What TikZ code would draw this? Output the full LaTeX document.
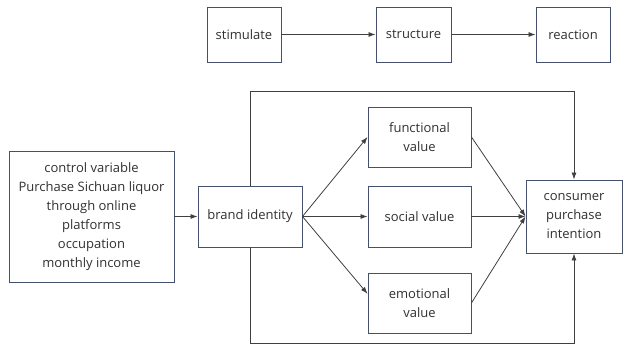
\documentclass[tikz,border=0pt]{standalone}
\usepackage{fontspec}
\setmainfont{Open Sans}
\usetikzlibrary{arrows.meta}
\definecolor{boxline}{HTML}{44506E}
\definecolor{arrline}{HTML}{404040}
\definecolor{txt}{HTML}{303030}
\tikzset{
    box/.style={draw=boxline, line width=0.9pt, align=center, text=txt,
        font=\fontsize{13}{19}\selectfont, inner sep=2pt},
    arr/.style={draw=arrline, line width=0.8pt, -{Latex[length=7pt,width=5pt]}}
}
\begin{document}
\begin{tikzpicture}[x=1pt, y=-1pt]
    \useasboundingbox (0,0) rectangle (623,344);
    % Top row
    \node[box, minimum width=74pt, minimum height=55pt] (stim) at (244,34.5) {stimulate};
    \node[box, minimum width=75pt, minimum height=55pt] (struc) at (413.5,34.5) {structure};
    \node[box, minimum width=74pt, minimum height=55pt] (react) at (573,34.5) {reaction};
    \draw[arr] (stim) -- (struc);
    \draw[arr] (struc) -- (react);

    % Model
    \node[box, minimum width=165pt, minimum height=131pt] (ctrl) at (91.5,216.5)
        {control variable\\Purchase Sichuan liquor\\through online\\platforms\\occupation\\monthly income};
    \node[box, minimum width=104pt, minimum height=61pt] (brand) at (250,216.5) {brand identity};
    \node[box, minimum width=103pt, minimum height=60pt] (func) at (419.5,137) {functional\\value};
    \node[box, minimum width=103pt, minimum height=61pt] (soc) at (419.5,216.5) {social value};
    \node[box, minimum width=103pt, minimum height=60pt] (emo) at (419.5,303) {emotional\\value};
    \node[box, minimum width=96pt, minimum height=73pt] (cons) at (574,216.5) {consumer\\purchase\\intention};

    \draw[arr] (ctrl) -- (brand);
    \draw[arr] (brand.east) -- (func.west);
    \draw[arr] (brand.east) -- (soc.west);
    \draw[arr] (brand.east) -- (emo.170);
    \draw[arr] (func.east) -- (cons.west);
    \draw[arr] (soc.east) -- (cons.west);
    \draw[arr] (emo.east) -- (cons.west);

    % Direct paths
    \draw[arr] (brand.north) -- (250,91) -| (cons.north);
    \draw[arr] (brand.south) -- (250,343) -| (cons.south);
\end{tikzpicture}
\end{document}
